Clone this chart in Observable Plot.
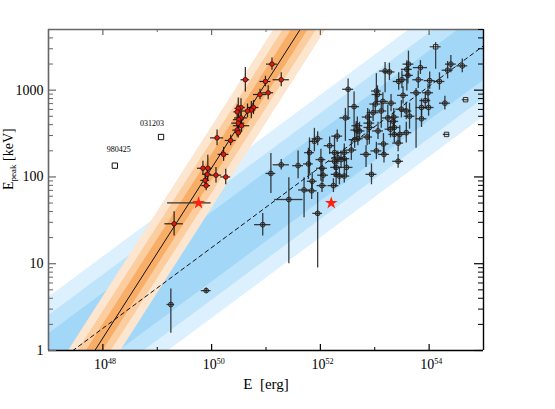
<!DOCTYPE html>
<html><head><meta charset="utf-8">
<script src="https://cdn.jsdelivr.net/npm/d3@7"></script>
<script src="https://cdn.jsdelivr.net/npm/@observablehq/plot@0.6"></script>
<style>body{margin:0;background:#fff} #chart svg{display:block}</style>
</head><body><div id="chart"></div>
<script>
// ---------- data (log10 values) ----------
// long GRBs (grey points)
const longLogE = [52.51,52.46,52.62,52.31,52.17,51.95,51.89,51.80,51.59,51.28,
  51.09,51.78,51.85,52.01,52.03,52.05,52.03,52.26,52.32,52.29,
  52.44,52.48,52.44,52.29,52.24,52.57,52.69,52.86,52.84,52.94,
  52.87,52.97,53.03,53.01,53.15,53.12,53.19,53.27,53.44,53.24,
  53.34,53.29,53.16,53.17,52.90,53.06,52.72,
  52.26,52.38,52.35,
  51.70,51.84,51.42,51.95,50.94,49.90,49.25,
  52.44,
  54.40,54.61,54.34,53.84,53.62,53.59,53.50,53.61,53.80,54.01,54.19,
  53.05,53.76,53.98,53.52,53.93,53.30,54.29,
  53.86,53.99,
  52.90,53.35,53.49,53.58,53.64,53.86,
  52.68,52.66,53.36,52.63,53.36,53.46,53.58,53.43,53.03,53.43];
const longLogEp = [3.01,2.68,2.81,2.47,2.36,2.44,2.41,2.28,2.13,2.14,
  2.04,2.15,1.95,2.20,2.10,2.02,1.90,2.28,2.22,2.11,
  2.21,2.11,2.01,2.03,1.90,2.31,2.44,2.46,2.26,2.03,
  2.69,2.74,2.99,2.84,2.87,2.76,3.22,3.21,3.10,2.68,
  2.64,2.55,2.38,2.26,2.57,2.53,2.53,
  2.18,2.20,2.01,
  1.85,1.84,1.74,1.58,1.45,0.69,0.53,
  2.28,
  3.30,3.28,3.23,3.26,3.30,3.24,3.12,3.17,3.12,3.11,3.10,
  2.95,2.97,2.97,2.94,2.88,2.85,2.85,
  2.80,2.80,
  2.62,2.69,2.78,2.76,2.70,2.67,
  2.59,2.54,2.57,2.43,2.49,2.49,2.51,2.39,2.30,2.18];
const longErrE = [.10,.10,.10,.10,.10,.10,.09,.09,.10,.15,
  .09,.09,.09,.09,.10,.10,.09,.09,.11,.10,
  .10,.12,.10,.09,.10,.10,.10,.10,.10,.10,
  .10,.11,.09,.10,.10,.10,.10,.10,.10,.10,
  .10,.10,.10,.10,.10,.10,.10,
  .10,.10,.10,
  .10,.10,.26,.09,.15,.09,.07,
  .10,
  .10,.10,.10,.13,.10,.10,.10,.10,.10,.10,.10,
  .10,.10,.10,.10,.10,.10,.10,
  .10,.10,
  .10,.10,.10,.10,.10,.10,
  .10,.10,.10,.10,.10,.10,.10,.10,.10,.10];
const longErrEpLo = [.36,.27,.29,.07,.10,.08,.12,.25,.15,.06,
  .23,.18,.10,.25,.10,.08,.08,.20,.08,.10,
  .10,.10,.08,.15,.08,.12,.08,.10,.15,.12,
  .15,.10,.15,.10,.10,.20,.25,.10,.10,.15,
  .10,.10,.12,.10,.20,.10,.10,
  .10,.10,.10,
  .32,.10,.74,.63,.13,.03,.33,
  .10,
  .10,.08,.10,.08,.15,.25,.10,.10,.10,.10,.10,
  .10,.64,.10,.10,.10,.10,.08,
  .10,.10,
  .20,.10,.10,.10,.15,.10,
  .10,.10,.10,.10,.10,.10,.12,.10,.10,.08];
const longErrEpHi = [.12,.11,.17,.07,.10,.08,.15,.17,.17,.06,
  .23,.18,.10,.12,.10,.08,.08,.20,.08,.10,
  .12,.10,.08,.10,.08,.12,.08,.10,.10,.12,
  .10,.10,.20,.10,.10,.10,.10,.10,.10,.15,
  .10,.10,.12,.10,.20,.10,.10,
  .10,.10,.10,
  .14,.10,.25,.24,.13,.03,.18,
  .10,
  .10,.08,.10,.08,.15,.10,.10,.10,.10,.10,.10,
  .10,.05,.10,.10,.10,.10,.08,
  .10,.10,
  .10,.10,.10,.10,.15,.10,
  .10,.10,.10,.10,.10,.10,.12,.10,.10,.08];

// long GRBs drawn as squares
const sqLogE = [54.12,54.67,54.32];
const sqLogEp = [3.50,2.89,2.49];
const sqErrE = [.10,.06,.06];
const sqErrEpLo = [.26,0,0];
const sqErrEpHi = [.05,0,0];

// labelled sub-energetic GRBs
const namedGRB = ["980425","031203"];
const namedLogE = [48.22,49.07];
const namedLogEp = [2.13,2.46];

// short GRBs (red points)
const shortLogE = [51.11,50.62,51.28,50.99,51.04,50.89,50.77,50.73,50.66,50.54,
  50.49,50.47,50.54,50.50,50.49,50.55,50.47,50.49,50.10,50.35,
  50.22,49.84,49.93,49.92,50.08,50.26,49.88,49.90,49.31];
const shortLogEp = [3.30,3.12,3.12,3.10,2.97,2.95,2.80,2.77,2.76,2.80,
  2.79,2.75,2.68,2.66,2.62,2.59,2.54,2.51,2.45,2.42,
  2.26,2.10,2.10,2.03,2.02,2.00,1.96,1.90,1.46];
const shortErrE = [.10,.08,.15,.10,.10,.12,.10,.08,.10,.08,
  .06,.06,.12,.10,.12,.15,.08,.06,.12,.10,
  .10,.10,.08,.08,.10,.09,.08,.08,.17];
const shortErrEp = [.07,.14,.08,.06,.08,.06,.08,.10,.08,.10,
  .12,.08,.08,.12,.06,.08,.08,.06,.09,.06,
  .08,.08,.15,.08,.09,.09,.08,.06,.14];

// stars
const starLogE = [49.76,52.20];
const starLogEp = [1.70,1.70];
const starErrELo = [.57,0];
const starErrEHi = [.23,0];

// correlations: log Ep = slope * (log E - logE0), bands at +- offsets (dex)
const longFit = {slope: 0.465, logE0: 47.45};
const longBands = [0.82, 0.61, 0.40];
const longBandColors = ["#dcf0fd", "#bee4fb", "#a2d7f8"];
const shortFit = {slope: 0.98, logE0: 47.853};
const shortBands = [0.47, 0.30, 0.15];
const shortBandColors = ["#fde6d0", "#fccd9f", "#f9ae68"];

// axes
const xDomain = [1e47, 1e55];
const yDomain = [1, 5000];
const xMajor = [1e48, 1e50, 1e52, 1e54];
const xMinor = [1e49, 1e51, 1e53];
const yMajor = [1, 10, 100, 1000];
const yMinor = [2,3,4,5,6,7,8,9,20,30,40,50,60,70,80,90,200,300,400,500,600,700,800,900,2000,3000,4000,5000];

// ---------- build tables ----------
const W = 555, H = 409, mL = 48, mR = 72, mT = 29, mB = 59;
const iW = W - mL - mR, iH = H - mT - mB;
const p = v => 10 ** v;
const longRows = longLogE.map((e, i) => ({E: p(e), Ep: p(longLogEp[i]), E1: p(e - longErrE[i]), E2: p(e + longErrE[i]),
  Ep1: p(longLogEp[i] - longErrEpLo[i]), Ep2: p(longLogEp[i] + longErrEpHi[i])}));
const sqRows = sqLogE.map((e, i) => ({E: p(e), Ep: p(sqLogEp[i]), E1: p(e - sqErrE[i]), E2: p(e + sqErrE[i]),
  Ep1: p(sqLogEp[i] - sqErrEpLo[i]), Ep2: p(sqLogEp[i] + sqErrEpHi[i])}));
const namedRows = namedGRB.map((n, i) => ({name: n, E: p(namedLogE[i]), Ep: p(namedLogEp[i])}));
const shortRows = shortLogE.map((e, i) => ({E: p(e), Ep: p(shortLogEp[i]), E1: p(e - shortErrE[i]), E2: p(e + shortErrE[i]),
  Ep1: p(shortLogEp[i] - shortErrEp[i]), Ep2: p(shortLogEp[i] + shortErrEp[i])}));
const starRows = starLogE.map((e, i) => ({E: p(e), Ep: p(starLogEp[i]), E1: p(e - starErrELo[i]), E2: p(e + starErrEHi[i])}));

const fitY = (fit, E, off) => 10 ** (fit.slope * (Math.log10(E) - fit.logE0) + off);
function bandMarks(fit, offsets, colors) {
  return offsets.map((o, k) => Plot.areaY(xDomain, {x: d => d, y1: d => fitY(fit, d, -o), y2: d => fitY(fit, d, o),
    fill: colors[k], clip: true}));
}

const errMarks = (rows, stroke, w, op) => [
  Plot.ruleY(rows, {y: "Ep", x1: "E1", x2: "E2", stroke, strokeWidth: w, strokeOpacity: op, clip: true}),
  Plot.ruleX(rows, {x: "E", y1: "Ep1", y2: "Ep2", stroke, strokeWidth: w, strokeOpacity: op, clip: true})
];

const gray = "#666", black = "#000";
const chart = Plot.plot({
  width: W, height: H, marginLeft: mL, marginRight: mR, marginTop: mT, marginBottom: mB,
  x: {type: "log", domain: xDomain, axis: null},
  y: {type: "log", domain: yDomain, axis: null},
  style: {fontFamily: "'Liberation Serif', 'DejaVu Serif', serif", background: "#fff", color: "#000"},
  marks: [
    ...bandMarks(longFit, longBands, longBandColors),
    ...bandMarks(shortFit, shortBands, shortBandColors),
    Plot.line(xDomain, {x: d => d, y: d => fitY(longFit, d, 0), stroke: "#111", strokeWidth: 1, strokeDasharray: "4,3.5", clip: true}),
    Plot.line(xDomain, {x: d => d, y: d => fitY(shortFit, d, 0), stroke: "#111", strokeWidth: 1, clip: true}),
    Plot.dot(longRows, {x: "E", y: "Ep", r: 2.4, fill: "#9a9a9a", stroke: "#222", strokeWidth: 0.9, clip: true}),
    ...errMarks(longRows, "#1e1e1e", 1.3, 0.85),
    Plot.dot(sqRows, {x: "E", y: "Ep", r: 2.5, symbol: "square", fill: "#ddd", stroke: "#222", strokeWidth: 0.9}),
    ...errMarks(sqRows, "#1e1e1e", 1.2, 0.85),
    Plot.dot(namedRows, {x: "E", y: "Ep", r: 3, symbol: "square", fill: "#fff", stroke: "#111", strokeWidth: 1}),
    Plot.text(namedRows.filter(d => d.name === "980425"), {x: "E", y: "Ep", text: "name", dx: 4, dy: -16, fontSize: 8, fill: "#000"}),
    Plot.text(namedRows.filter(d => d.name === "031203"), {x: "E", y: "Ep", text: "name", dx: -9, dy: -14, fontSize: 8, fill: "#000"}),
    ...errMarks(shortRows, "#111", 1.2, 0.9),
    Plot.dot(shortRows, {x: "E", y: "Ep", r: 2.3, fill: "#e8150c", stroke: "#111", strokeWidth: 0.7, clip: true}),
    Plot.ruleY(starRows, {y: "Ep", x1: "E1", x2: "E2", stroke: "#333", strokeWidth: 1.2}),
    Plot.dot(starRows, {x: "E", y: "Ep", r: 4, symbol: "star", fill: "#ff2010", stroke: "none"}),
    // frame
    Plot.ruleX([xDomain[0]], {x: d => d, stroke: gray, strokeWidth: 1.6}),
    Plot.ruleY([yDomain[1]], {y: d => d, stroke: gray, strokeWidth: 1.6}),
    Plot.ruleX([xDomain[1]], {x: d => d, stroke: black, strokeWidth: 1.4}),
    Plot.ruleY([yDomain[0]], {y: d => d, stroke: black, strokeWidth: 1.4}),
    // inward ticks
    Plot.tickX(xMajor, {x: d => d, insetTop: iH - 6, stroke: black, strokeWidth: 1.2}),
    Plot.tickX(xMinor, {x: d => d, insetTop: iH - 3, stroke: black, strokeWidth: 1}),
    Plot.tickX(xMajor, {x: d => d, insetBottom: iH - 6, stroke: gray, strokeWidth: 1.2}),
    Plot.tickX(xMinor, {x: d => d, insetBottom: iH - 3, stroke: gray, strokeWidth: 1}),
    Plot.tickY(yMajor, {y: d => d, insetRight: iW - 8, stroke: gray, strokeWidth: 1.2}),
    Plot.tickY(yMinor, {y: d => d, insetRight: iW - 5, stroke: gray, strokeWidth: 1}),
    Plot.tickY(yMajor, {y: d => d, insetLeft: iW - 9, stroke: black, strokeWidth: 1.2}),
    Plot.tickY(yMinor, {y: d => d, insetLeft: iW - 5, stroke: black, strokeWidth: 1}),
    // tick labels
    Plot.text(yMajor, {y: d => d, text: d => String(d), frameAnchor: "left", textAnchor: "end", dx: -5, fontSize: 14, fill: "#000"}),
    Plot.text(xMajor, {x: d => d, text: () => "10", frameAnchor: "bottom", textAnchor: "end", dx: 5, dy: 18, fontSize: 14, fill: "#000"}),
    Plot.text(xMajor, {x: d => d, text: d => String(Math.round(Math.log10(d))), frameAnchor: "bottom", textAnchor: "start", dx: 5, dy: 13, fontSize: 8, fill: "#000"}),
    // axis titles
    Plot.text(["E\u00a0\u00a0[erg]"], {text: d => d, frameAnchor: "bottom", dy: 38, fontSize: 15, fill: "#000"}),
    Plot.text(["Epeak [keV]"], {text: d => d, frameAnchor: "left", dx: -40, rotate: -90, fontSize: 14, fill: "#000"})
  ]
});
document.getElementById("chart").appendChild(chart);

// subscript for the y title
d3.select(chart).selectAll("text").filter(function () { return this.textContent === "Epeak [keV]"; })
  .each(function () {
    const t = d3.select(this);
    t.text("");
    t.append("tspan").text("E");
    t.append("tspan").attr("font-size", 9).attr("dy", 3).text("peak");
    t.append("tspan").attr("dy", -3).text("\u00a0[keV]");
  });
</script></body></html>
